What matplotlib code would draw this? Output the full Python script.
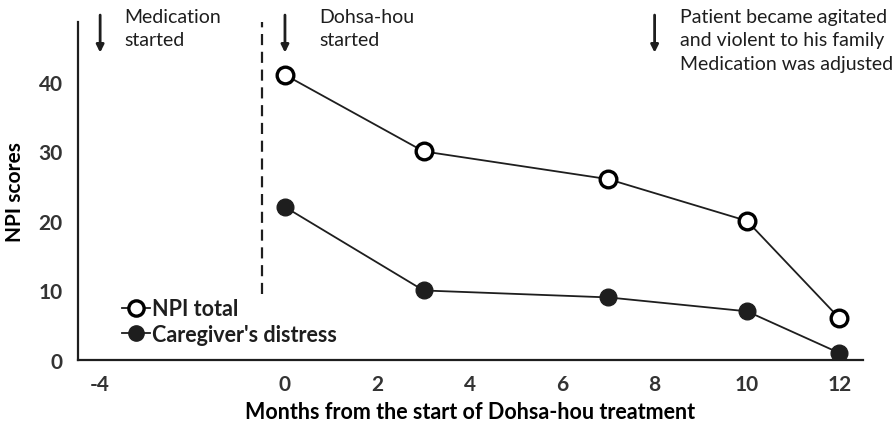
import matplotlib.pyplot as plt

plt.rcParams['font.family'] = ['Lato', 'DejaVu Sans']
plt.rcParams['axes.unicode_minus'] = False

months = [0, 3, 7, 10, 12]
npi_total = [41, 30, 26, 20, 6]
caregiver = [22, 10, 9, 7, 1]
xticks = [-4, 0, 2, 4, 6, 8, 10, 12]
yticks = [0, 10, 20, 30, 40]

dark = '#1e1e1e'

fig = plt.figure(figsize=(8.93, 4.31), dpi=100)
ax = fig.add_axes([0.0873, 0.1624, 0.8791, 0.7842])

ax.plot(months, npi_total, color=dark, lw=1.3, marker='o', ms=12,
        mfc='white', mec='black', mew=2.4, label='NPI total', zorder=3)
ax.plot(months, caregiver, color=dark, lw=1.3, marker='o', ms=12,
        mfc=dark, mec=dark, label="Caregiver's distress", zorder=3)

# dashed separator before treatment start
ax.plot([-0.5, -0.5], [9.5, 48.6], color=dark, lw=1.6, ls=(0, (5, 3)))

# event arrows
events = [(-4, 'Medication\nstarted', -3.48),
          (0, 'Dohsa-hou\nstarted', 0.74),
          (8, 'Patient became agitated\nand violent to his family\nMedication was adjusted', 8.55)]
for x, txt, tx in events:
    ax.annotate('', xy=(x, 44.2), xytext=(x, 49.6), annotation_clip=False,
                arrowprops=dict(arrowstyle='-|>', color=dark, lw=2.0,
                                mutation_scale=11, shrinkA=0, shrinkB=0))
    ax.text(tx, 50.6, txt, ha='left', va='top', fontsize=14, color=dark,
            linespacing=1.45, clip_on=False)

ax.set_xlim(-4.48, 12.51)
ax.set_ylim(0, 48.6)
ax.set_xticks(xticks)
ax.set_yticks(yticks)
ax.tick_params(length=0, labelsize=15, colors='#333333')
ax.tick_params(axis='x', pad=10)
ax.tick_params(axis='y', pad=11)
for lab in ax.get_xticklabels() + ax.get_yticklabels():
    lab.set_fontweight('bold')

for s in ['top', 'right']:
    ax.spines[s].set_visible(False)
for s in ['left', 'bottom']:
    ax.spines[s].set_linewidth(1.6)
    ax.spines[s].set_color(dark)

ax.set_xlabel('Months from the start of Dohsa-hou treatment', fontsize=15.5,
              fontweight='bold', color='black')
ax.xaxis.set_label_coords(0.5, -0.122)
ax.set_ylabel('NPI scores', fontsize=15, fontweight='bold', color='black')
ax.yaxis.set_label_coords(-0.068, 0.5)

leg = ax.legend(loc='lower left', bbox_to_anchor=(0.045, 0.02), frameon=False,
                handlelength=1.3, handletextpad=0.1, labelspacing=0.2,
                prop={'size': 15.5, 'weight': 'bold'}, borderaxespad=0)
for t in leg.get_texts():
    t.set_color(dark)
for h in leg.legend_handles:
    h.set_markersize(11)

fig.savefig('out.png', dpi=100)
